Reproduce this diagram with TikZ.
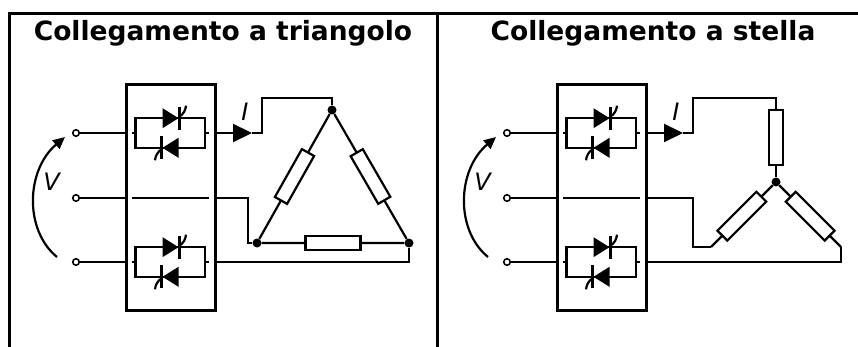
\documentclass[tikz,border=0pt]{standalone}
\usepackage{fontspec}
\setmainfont{DejaVu Sans}
\usetikzlibrary{arrows.meta,positioning}

\begin{document}
\begin{tikzpicture}[x=1pt,y=-1pt,
  wire/.style={line width=2.2pt},
  frame/.style={line width=3pt},
  res/.style={draw,line width=2.2pt,fill=white,minimum width=55pt,minimum height=14pt,inner sep=0pt},
  dot/.style={circle,fill,inner sep=0pt,minimum size=9pt},
  term/.style={circle,draw,line width=1.6pt,fill=white,inner sep=0pt,minimum size=6.5pt},
  box/.style={draw,frame,minimum width=89pt,minimum height=226pt,inner sep=0pt},
  title/.style={font=\bfseries\fontsize{26.5}{30}\selectfont,anchor=base},
  lbl/.style={font=\itshape\fontsize{24}{28}\selectfont},
  thy/.pic={
    \fill (-8,-10) -- (8,0) -- (-8,10) -- cycle;
    \draw[line width=2.6pt] (8.8,-11.5) -- (8.8,11.5);
    \draw[wire] (8.8,-1.5) .. controls (13,-4) and (15,-8) .. (15.5,-12.5);
  },
  thypair/.pic={
    \draw[wire] (-39,0) -- (-35,0) (34.5,0) -- (38.5,0);
    \draw[wire] (-35,-14.8) rectangle (34.5,14.8);
    \pic at (0,-14.8) {thy};
    \pic[rotate=180] at (0,14.8) {thy};
  }]
\useasboundingbox (0,0) rectangle (858,347);

\draw[frame] (9,347) -- (9,14) -- (858,14);
\draw[frame] (437,14) -- (437,347);

\node[title] (tt-a) at (223,41) {Collegamento a triangolo};
\node[title] (tt-b) at (653,41) {Collegamento a stella};

\foreach \s/\n in {0/a,431/b}{
\begin{scope}[xshift=\s]
  \node[box] (box-\n) at (171,197.5) {};
  \node[term] (in1-\n) at (76,133) {};
  \node[term] (in2-\n) at (76,198) {};
  \node[term] (in3-\n) at (76,262) {};
  \draw[wire] (in1-\n) -- (in1-\n -| box-\n.west);
  \draw[wire] (in2-\n) -- (in2-\n -| box-\n.west);
  \draw[wire] (in3-\n) -- (in3-\n -| box-\n.west);
  \pic at (170.5,133) {thypair};
  \pic at (170.5,262) {thypair};
  \draw[wire] (132,198) -- (209,198);
  \coordinate (arr-\n) at (252,133);
  \draw[wire,-{Triangle[length=19pt,width=18pt]}] (in1-\n -| box-\n.east) -- (arr-\n);
  \node[lbl] (i-\n) at (245,112) {I};
  \coordinate (va-\n) at (57,257);
  \coordinate (vb-\n) at (65,137);
  \draw[wire,-{Triangle[length=12pt,width=11pt]}] (va-\n) .. controls (24,230) and (26,170) .. (vb-\n);
  \node[lbl] (v-\n) at (51.5,181.5) {V};
\end{scope}
}

\node[dot] (top-a) at (332,110) {};
\node[dot] (left-a) at (257,243) {};
\node[dot] (right-a) at (409,243) {};
\draw[wire] (arr-a) -- ++(10,0) |- ([yshift=12pt]top-a.center) -- (top-a);
\draw[wire] (top-a) -- node[res,sloped] {} (left-a) -- node[res,sloped] {} (right-a) -- node[res,sloped] {} (top-a);
\draw[wire] (in2-a -| box-a.east) -- ++(31,0) |- (left-a);
\draw[wire] (in3-a -| box-a.east) -| (right-a);

\node[dot] (star-b) at (776,182) {};
\coordinate (l-b) at (711,247);
\coordinate (r-b) at (841,247);
\draw[wire] (arr-b) -- ++(10,0) |- ([yshift=84pt]star-b.center) -- node[res,sloped] {} (star-b);
\draw[wire] (star-b) -- node[res,sloped] {} (l-b);
\draw[wire] (star-b) -- node[res,sloped] {} (r-b);
\draw[wire] (in2-b -| box-b.east) -- ++(45,0) |- (l-b);
\draw[wire] (in3-b -| box-b.east) -| (r-b);
\end{tikzpicture}
\end{document}
